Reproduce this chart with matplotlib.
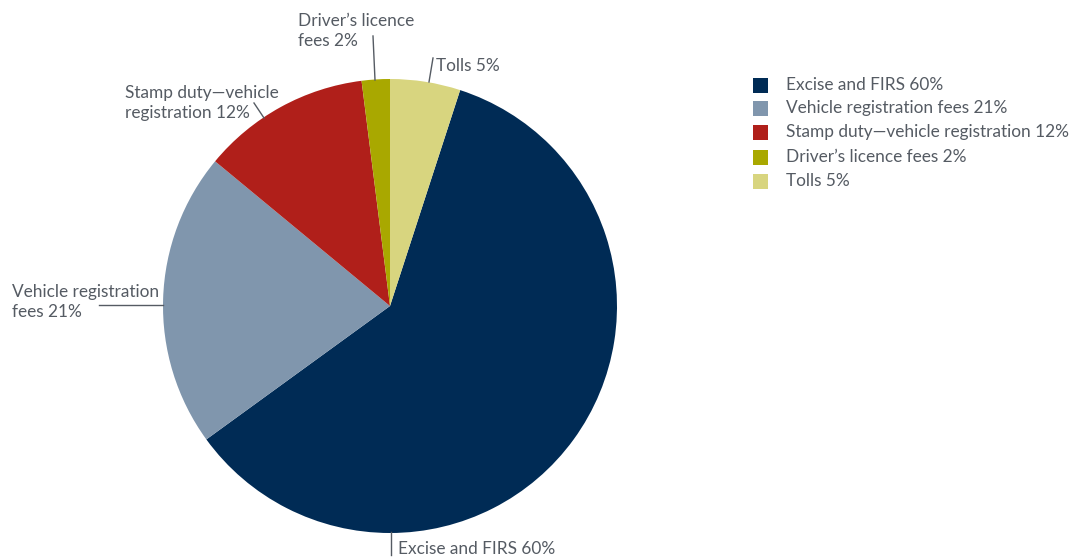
import matplotlib
matplotlib.use("Agg")
import matplotlib.pyplot as plt
from matplotlib.patches import Rectangle

categories = ["Excise and FIRS", "Vehicle registration fees", "Stamp duty\u2014vehicle registration",
              "Driver\u2019s licence fees", "Tolls"]
values = [60, 21, 12, 2, 5]
colors = ["#002b55", "#8096ad", "#b01f1a", "#a9a800", "#d8d57f"]
pie_labels = ["Excise and FIRS 60%", "Vehicle registration\nfees 21%", "Stamp duty\u2014vehicle\nregistration 12%",
              "Driver\u2019s licence\nfees 2%", "Tolls 5%"]

plt.rcParams['font.family'] = ['Lato', 'DejaVu Sans']
TXT = "#555b63"
H = 559

fig = plt.figure(figsize=(10.72, 5.59), dpi=100)
ax = fig.add_axes([0, 0, 1, 1])

cx, cy, r = 390, H - 306, 227
wedges, _ = ax.pie(values, colors=colors, startangle=72, counterclock=False,
                   center=(cx, cy), radius=r, frame=True,
                   wedgeprops=dict(linewidth=0))
ax.set_xlim(0, 1072)
ax.set_ylim(0, H)
ax.set_aspect('equal')
ax.axis('off')

fs = 12.4
# leader lines (pixel coords, y from top)
lines = [((391, 532), (391, 555)),
         ((99, 305), (163, 305)),
         ((254, 103), (264, 118)),
         ((373, 36), (375, 80)),
         ((433, 58), (429, 82))]
for (x0, y0), (x1, y1) in lines:
    ax.plot([x0, x1], [H - y0, H - y1], color="#555b63", lw=1)

label_pos = [(398, 549), (12, 302), (125, 103), (298, 31), (436, 66)]
for lab, (x, y) in zip(pie_labels, label_pos):
    ax.text(x, H - y, lab, fontsize=fs, color=TXT, ha='left', va='center', linespacing=1.25)

# legend
leg_y = [85, 108, 132, 157, 181]
for c, cat, v, y in zip(colors, categories, values, leg_y):
    ax.add_patch(Rectangle((753, H - y - 7.5), 15, 15, color=c, lw=0))
    ax.text(786, H - y, f"{cat} {v}%", fontsize=fs, color=TXT, ha='left', va='center')

fig.savefig("out.png", dpi=100)
